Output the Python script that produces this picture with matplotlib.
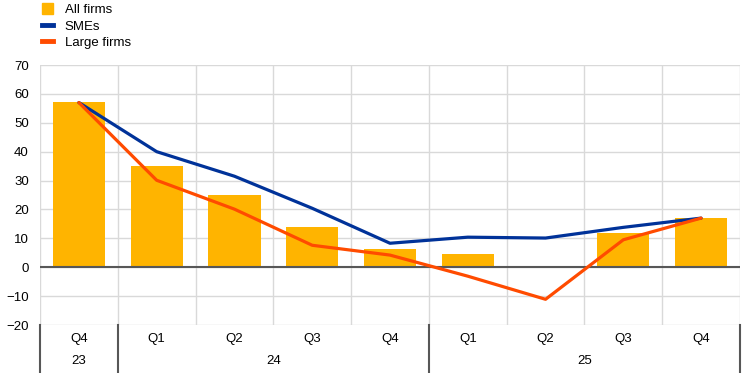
import matplotlib
matplotlib.use('Agg')
import matplotlib.pyplot as plt
from matplotlib.lines import Line2D
from matplotlib.patches import Patch
import numpy as np

plt.rcParams['font.family'] = ['Liberation Sans', 'DejaVu Sans']

quarters = ['Q4', 'Q1', 'Q2', 'Q3', 'Q4', 'Q1', 'Q2', 'Q3', 'Q4']
years = ['23', '24', '25']
year_spans = [(0, 1), (1, 5), (5, 9)]
all_firms = [57.2, 35.0, 25.0, 13.8, 6.2, 4.5, 0.0, 12.0, 17.0]
smes = [57.0, 40.0, 31.5, 20.4, 8.3, 10.4, 10.1, 13.8, 17.0]
large_firms = [57.0, 30.1, 20.1, 7.6, 4.2, -3.1, -11.1, 9.5, 17.0]

c_all = '#FFB400'
c_sme = '#003299'
c_large = '#FF4B00'

fig = plt.figure(figsize=(7.42, 3.73), dpi=100)
ax = fig.add_axes([40/742, 48/373, 700/742, 260/373])

x = np.arange(len(quarters))
ax.bar(x, all_firms, width=0.67, color=c_all, zorder=2)
ax.plot(x, smes, color=c_sme, lw=2.3, zorder=4, solid_capstyle='round')
ax.plot(x, large_firms, color=c_large, lw=2.3, zorder=5, solid_capstyle='round')
ax.axhline(0, color='#575757', lw=1.5, zorder=3)

ax.set_xlim(-0.5, len(quarters) - 0.5)
ax.set_ylim(-20, 70)
ax.set_yticks(np.arange(-20, 71, 10))
ax.set_xticks(np.arange(-0.5, len(quarters), 1))
ax.set_xticklabels([])
ax.grid(True, color='#d9d9d9', lw=1, zorder=0)
ax.tick_params(length=0, labelsize=9.5, pad=8)
for s in ax.spines.values():
    s.set_visible(False)

# category axis with quarter and year rows
for i, q in enumerate(quarters):
    ax.text(i, -0.055, q, transform=ax.get_xaxis_transform(), ha='center',
            va='center', fontsize=9.5)
for (a, b), yr in zip(year_spans, years):
    ax.text((a + b - 1) / 2, -0.14, yr, transform=ax.get_xaxis_transform(),
            ha='center', va='center', fontsize=9.5)
for xb in [-0.5, 0.5, 4.5, 8.5]:
    ax.plot([xb, xb], [0, -0.185], transform=ax.get_xaxis_transform(),
            color='#575757', lw=1.5, clip_on=False)

handles = [Patch(color=c_all),
           Line2D([], [], color=c_sme, lw=3.5),
           Line2D([], [], color=c_large, lw=3.5)]
fig.legend(handles, ['All firms', 'SMEs', 'Large firms'], loc='upper left',
           bbox_to_anchor=(37/742, 1.005), frameon=False, fontsize=9.5,
           handlelength=0.85, handleheight=0.85, handletextpad=0.85,
           labelspacing=0.27, borderaxespad=0)

fig.savefig('out.png', dpi=100)
